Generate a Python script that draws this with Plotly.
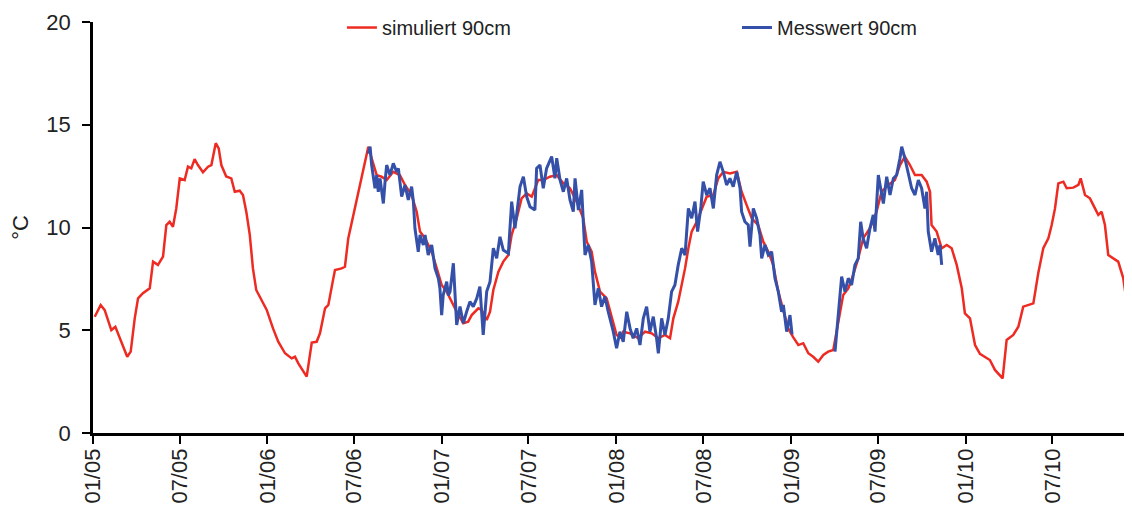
import plotly.graph_objects as go
import pandas as pd

# time in years since 01/01/2005, values in °C
sim_t = [0.010, 0.044, 0.067, 0.105, 0.128, 0.153, 0.196, 0.216, 0.239, 0.258, 0.286, 0.325,
         0.344, 0.372, 0.401, 0.420, 0.439, 0.458, 0.477, 0.497, 0.525, 0.544, 0.563, 0.582,
         0.601, 0.630, 0.659, 0.678, 0.703, 0.720, 0.735, 0.763, 0.792, 0.812, 0.840, 0.859,
         0.878, 0.898, 0.916, 0.935, 0.964, 0.995, 1.031, 1.061, 1.100, 1.138, 1.157, 1.176,
         1.224, 1.253, 1.281, 1.300, 1.329, 1.348, 1.376, 1.386, 1.424, 1.443, 1.462, 1.491,
         1.519, 1.539, 1.558, 1.577, 1.596, 1.625, 1.653, 1.682, 1.720, 1.758, 1.787, 1.825,
         1.854, 1.873, 1.902, 1.940, 1.969, 1.997, 2.026, 2.083, 2.121, 2.149, 2.169, 2.207,
         2.226, 2.255, 2.274, 2.293, 2.322, 2.350, 2.379, 2.398, 2.427, 2.455, 2.484, 2.513,
         2.550, 2.579, 2.617, 2.656, 2.694, 2.732, 2.770, 2.808, 2.828, 2.856, 2.875, 2.904,
         2.942, 2.971, 2.999, 3.028, 3.037, 3.076, 3.123, 3.162, 3.200, 3.238, 3.276, 3.305,
         3.324, 3.352, 3.372, 3.391, 3.410, 3.429, 3.458, 3.486, 3.515, 3.553, 3.581, 3.610,
         3.648, 3.687, 3.715, 3.744, 3.773, 3.810, 3.839, 3.868, 3.896, 3.925, 3.954, 3.982,
         4.011, 4.040, 4.068, 4.097, 4.125, 4.154, 4.183, 4.211, 4.240, 4.259, 4.278, 4.297,
         4.326, 4.354, 4.383, 4.411, 4.450, 4.488, 4.517, 4.555, 4.593, 4.622, 4.650, 4.679,
         4.708, 4.746, 4.775, 4.794, 4.803, 4.832, 4.861, 4.890, 4.918, 4.947, 4.976, 4.994,
         5.023, 5.052, 5.080, 5.137, 5.166, 5.210, 5.233, 5.271, 5.300, 5.328, 5.386, 5.414,
         5.443, 5.472, 5.491, 5.510, 5.529, 5.558, 5.577, 5.615, 5.644, 5.657, 5.682, 5.710,
         5.739, 5.758, 5.777, 5.796, 5.815, 5.843, 5.872, 5.901, 5.920, 5.949]
sim_val = [5.66, 6.23, 5.98, 5.01, 5.17, 4.60, 3.71, 3.96, 5.58, 6.55, 6.80, 7.04,
           8.34, 8.18, 8.58, 10.12, 10.28, 10.04, 10.93, 12.39, 12.31, 12.96, 12.88, 13.33,
           13.04, 12.69, 12.96, 13.04, 14.10, 13.85, 13.04, 12.48, 12.39, 11.74, 11.79, 11.58,
           10.77, 9.64, 8.01, 6.96, 6.47, 5.99, 5.09, 4.44, 3.88, 3.63, 3.71, 3.39,
           2.74, 4.40, 4.44, 4.85, 6.07, 6.23, 7.50, 7.93, 8.01, 8.09, 9.47, 10.61,
           11.74, 12.55, 13.20, 13.93, 13.37, 12.55, 12.47, 12.31, 12.71, 12.55, 12.07, 11.58,
           10.77, 9.80, 9.47, 8.82, 8.01, 7.20, 6.88, 5.90, 5.34, 5.42, 5.74, 6.07,
           5.99, 5.50, 5.90, 6.96, 7.85, 8.34, 8.66, 9.64, 10.45, 11.42, 11.66, 11.50,
           12.31, 12.31, 12.47, 12.55, 12.15, 11.91, 11.26, 10.45, 9.31, 8.82, 7.85, 6.88,
           6.55, 5.58, 4.77, 4.61, 4.93, 4.85, 4.61, 4.93, 4.85, 4.61, 4.77, 4.61,
           5.58, 6.39, 7.20, 8.01, 8.99, 9.80, 10.28, 10.93, 11.50, 11.58, 12.39, 12.71,
           12.63, 12.71, 11.74, 11.09, 10.45, 10.12, 9.31, 8.82, 8.18, 6.88, 5.90, 5.09,
           4.65, 4.28, 4.37, 3.88, 3.71, 3.47, 3.80, 3.96, 4.04, 4.93, 5.90, 6.72,
           7.04, 7.69, 8.50, 9.47, 9.96, 10.77, 11.74, 12.07, 12.31, 13.04, 13.45, 13.04,
           12.55, 12.55, 12.23, 11.74, 10.12, 9.80, 8.99, 9.15, 8.99, 8.18, 7.04, 5.82,
           5.58, 4.28, 3.85, 3.55, 3.07, 2.66, 4.53, 4.77, 5.17, 6.15, 6.31, 7.77,
           9.00, 9.47, 10.12, 10.93, 12.15, 12.23, 11.91, 11.94, 12.07, 12.39, 11.58, 11.42,
           10.93, 10.61, 10.77, 10.12, 8.66, 8.50, 8.34, 7.53, 6.39, 5.26]

mess_t = [1.577, 1.587, 1.596, 1.615, 1.625, 1.634, 1.644, 1.663, 1.672, 1.682, 1.701, 1.720,
          1.739, 1.749, 1.768, 1.787, 1.806, 1.825, 1.835, 1.844, 1.863, 1.873, 1.892, 1.902,
          1.920, 1.940, 1.959, 1.978, 1.987, 1.997, 2.006, 2.026, 2.035, 2.045, 2.064, 2.074,
          2.083, 2.102, 2.121, 2.140, 2.159, 2.178, 2.198, 2.216, 2.235, 2.255, 2.274, 2.293,
          2.312, 2.331, 2.350, 2.379, 2.398, 2.417, 2.446, 2.465, 2.484, 2.503, 2.531, 2.541,
          2.560, 2.579, 2.598, 2.627, 2.646, 2.656, 2.675, 2.694, 2.713, 2.732, 2.751, 2.761,
          2.780, 2.799, 2.808, 2.818, 2.837, 2.856, 2.875, 2.894, 2.913, 2.932, 2.951, 2.980,
          2.999, 3.018, 3.037, 3.057, 3.076, 3.094, 3.114, 3.133, 3.152, 3.171, 3.190, 3.209,
          3.228, 3.238, 3.257, 3.276, 3.295, 3.314, 3.333, 3.352, 3.372, 3.391, 3.410, 3.429,
          3.448, 3.463, 3.482, 3.495, 3.515, 3.534, 3.553, 3.572, 3.591, 3.610, 3.629, 3.648,
          3.667, 3.687, 3.706, 3.715, 3.734, 3.753, 3.763, 3.782, 3.801, 3.820, 3.830, 3.849,
          3.868, 3.887, 3.906, 3.925, 3.944, 3.954, 3.973, 3.992, 4.004, 4.120,
          4.250, 4.259, 4.278, 4.288, 4.307, 4.326, 4.345, 4.364, 4.383, 4.397, 4.411, 4.431,
          4.450, 4.469, 4.479, 4.498, 4.508, 4.527, 4.546, 4.565, 4.584, 4.603, 4.622, 4.632,
          4.650, 4.670, 4.689, 4.708, 4.727, 4.746, 4.765, 4.775, 4.784, 4.803, 4.822, 4.841,
          4.851, 4.861]
mess_val = [13.60, 13.93, 13.04, 11.91, 12.55, 11.74, 12.39, 11.17, 12.15, 13.04, 12.55, 13.12,
            12.71, 12.88, 11.50, 12.07, 11.34, 11.99, 11.26, 9.96, 8.82, 9.64, 9.15, 9.64,
            8.66, 9.15, 8.01, 7.53, 7.04, 5.74, 6.72, 7.36, 6.70, 6.88, 8.26, 6.55,
            5.26, 6.15, 5.34, 5.90, 6.39, 6.15, 6.55, 7.12, 4.77, 6.88, 7.36, 8.99,
            8.50, 9.55, 8.90, 8.74, 11.26, 9.96, 11.99, 12.47, 11.50, 11.01, 10.85, 12.88,
            13.04, 11.91, 12.88, 13.45, 12.39, 13.37, 12.31, 11.74, 12.39, 11.34, 10.77, 12.39,
            10.85, 11.83, 10.45, 8.66, 9.15, 8.34, 6.23, 7.04, 6.15, 6.64, 5.90, 4.93,
            4.12, 4.93, 4.44, 5.90, 5.09, 4.61, 5.09, 4.28, 5.58, 6.15, 4.93, 5.66,
            4.61, 3.88, 5.58, 4.77, 5.58, 6.88, 7.20, 8.18, 8.99, 8.66, 10.93, 10.45,
            11.26, 9.80, 11.01, 12.23, 11.58, 11.91, 10.93, 12.55, 13.20, 12.71, 12.07, 12.39,
            11.99, 12.71, 11.91, 10.77, 10.28, 10.12, 9.07, 10.93, 10.45, 9.64, 8.50, 9.15,
            8.66, 8.82, 7.53, 6.88, 5.90, 6.23, 4.93, 5.74, 4.80, None,
            3.96, 4.93, 6.55, 7.61, 6.88, 7.53, 7.20, 8.18, 8.50, 10.28, 9.47, 8.99,
            9.96, 10.61, 9.80, 12.55, 12.07, 11.17, 12.47, 11.58, 12.39, 12.55, 13.37, 13.93,
            13.37, 12.55, 11.91, 11.58, 12.31, 11.91, 10.93, 11.74, 9.80, 8.82, 9.47, 8.66,
            9.15, 8.18]

tick_dates = ["2005-01-01", "2005-07-01", "2006-01-01", "2006-07-01", "2007-01-01", "2007-07-01",
              "2008-01-01", "2008-07-01", "2009-01-01", "2009-07-01", "2010-01-01", "2010-07-01"]
tick_labels = ["01/05", "07/05", "01/06", "07/06", "01/07", "07/07",
               "01/08", "07/08", "01/09", "07/09", "01/10", "07/10"]

start = pd.Timestamp("2005-01-01")


def to_dates(ts):
    return [start + pd.to_timedelta(t * 365.25, unit="D") for t in ts]


sim_x = to_dates(sim_t)
mess_x = to_dates(mess_t)
x_end = start + pd.to_timedelta(5.951 * 365.25, unit="D")

FONT = "Liberation Sans, Arial, sans-serif"

fig = go.Figure()
fig.add_trace(go.Scatter(x=sim_x, y=sim_val, mode="lines", name="simuliert 90cm",
                         line=dict(color="#EE2B22", width=2.5), legend="legend"))
fig.add_trace(go.Scatter(x=mess_x, y=mess_val, mode="lines", name="Messwert 90cm",
                         connectgaps=False,
                         line=dict(color="#3450A8", width=3), legend="legend2"))

fig.update_layout(
    width=1124, height=499,
    margin=dict(l=85, r=0, t=14, b=74),
    paper_bgcolor="white", plot_bgcolor="white",
    font=dict(family=FONT, size=20, color="#222222"),
    showlegend=True,
    legend=dict(x=0.2396, y=1.034, xanchor="left", yanchor="top",
                bgcolor="rgba(0,0,0,0)", font=dict(size=20), itemwidth=30),
    legend2=dict(x=0.6198, y=1.034, xanchor="left", yanchor="top",
                 bgcolor="rgba(0,0,0,0)", font=dict(size=20), itemwidth=30),
    xaxis=dict(type="date", range=[start, x_end], tickmode="array",
               tickvals=tick_dates, ticktext=tick_labels, tickangle=-90,
               showgrid=False, zeroline=False, showline=True, linecolor="black",
               linewidth=2.5, ticks="outside", ticklen=8, tickwidth=2, tickcolor="black",
               tickfont=dict(size=22), ticklabelstandoff=-4),
    yaxis=dict(range=[0, 20], tickvals=[0, 5, 10, 15, 20], showgrid=False, zeroline=False,
               showline=True, linecolor="black", linewidth=2.5, ticks="outside",
               ticklen=8, tickwidth=2, tickcolor="black", tickfont=dict(size=22),
               ticklabelstandoff=7,
               title=dict(text="°C", font=dict(size=22), standoff=12)),
)

fig.write_html("out.html")
